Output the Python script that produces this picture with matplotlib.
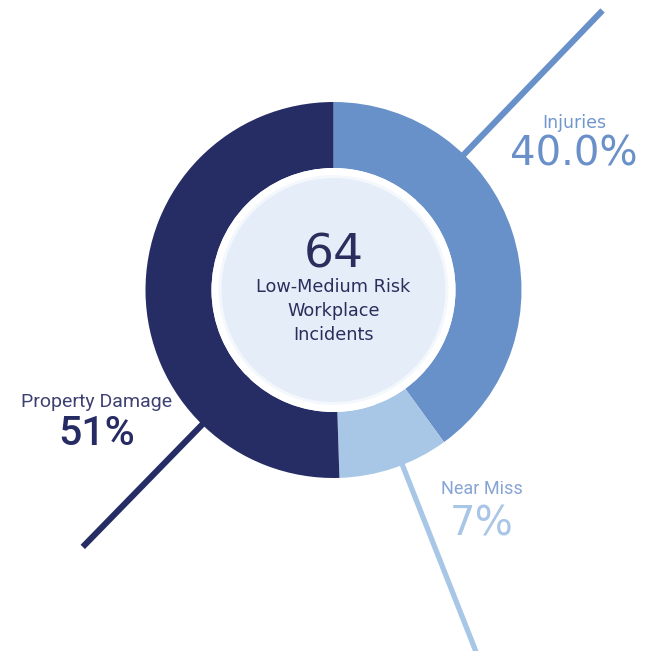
import numpy as np
import matplotlib
matplotlib.use("Agg")
import matplotlib.pyplot as plt
from matplotlib.patches import Circle

# ---- data ----
categories = ["Injuries", "Near Miss", "Property Damage"]
value_labels = ["40.0%", "7%", "51%"]
slice_shares = [40.0, 9.5, 50.5]          # shares as drawn in the picture
total_count = "64"
center_caption = ["Low-Medium Risk", "Workplace", "Incidents"]

# ---- style ----
colors = ["#6890c9", "#a8c7e6", "#252d64"]
W, H = 645, 651
cx, cy = 333.5, H - 290
R_out, ring_w = 188, 66
R_white, R_light = 122, 112
light_fill = "#e5eef8"

fig = plt.figure(figsize=(W / 100, H / 100), dpi=100)
ax = fig.add_axes([0, 0, 1, 1])

# leader lines (radial, behind the donut): angle (deg), length (px), width, colour
leaders = [(46.1, 388, 4.4, colors[0]),
           (-68.5, 420, 3.8, colors[1]),
           (225.7, 359, 4.4, colors[2])]
for ang, length, lw, col in leaders:
    a = np.deg2rad(ang)
    ax.plot([cx, cx + length * np.cos(a)], [cy, cy + length * np.sin(a)],
            color=col, lw=lw, solid_capstyle="butt", zorder=1)

ax.pie(slice_shares, colors=colors, startangle=90, counterclock=False,
       radius=R_out, center=(cx, cy),
       wedgeprops=dict(width=ring_w, edgecolor="none"))
for p in ax.patches:
    p.set_zorder(2)

ax.add_patch(Circle((cx, cy), R_white, fc="white", ec="none", zorder=3))
ax.add_patch(Circle((cx, cy), R_light + 3, fc="#f4f8fc", ec="none", zorder=3.5))
ax.add_patch(Circle((cx, cy), R_light, fc=light_fill, ec="none", zorder=4))

ax.set_xlim(0, W)
ax.set_ylim(0, H)
ax.set_aspect("equal")
ax.axis("off")

def py(y):
    return H - y

center_font = "DejaVu Sans"
navy_text = "#2a2e5c"
ax.text(cx, py(267), total_count, ha="center", va="baseline", fontsize=34,
        family=center_font, weight="normal", color=navy_text, zorder=5)
for line, yb in zip(center_caption, [292, 316, 340]):
    ax.text(cx, py(yb), line, ha="center", va="baseline", fontsize=12.7,
            family=center_font, color=navy_text, zorder=5)

# Injuries
ax.text(574, py(128), categories[0], ha="center", va="baseline", fontsize=12.5,
        family=center_font, color="#7097cc", zorder=5)
ax.text(574, py(166), value_labels[0], ha="center", va="baseline", fontsize=29,
        family=center_font, color="#6a90c9", zorder=5)

# Near Miss
ax.text(482, py(494), categories[1], ha="center", va="baseline", fontsize=13,
        family="Roboto", color="#86a4d4", zorder=5)
ax.text(482, py(535), value_labels[1], ha="center", va="baseline", fontsize=29,
        family=center_font, color="#a9c6e6", zorder=5)

# Property Damage
ax.text(97, py(407), categories[2], ha="center", va="baseline", fontsize=14,
        family="Roboto", color="#3d4172", zorder=5)
ax.text(97, py(445), value_labels[2], ha="center", va="baseline", fontsize=29.5,
        family="Roboto", weight="medium", color="#262c63", zorder=5)

fig.savefig("out.png", dpi=100)
